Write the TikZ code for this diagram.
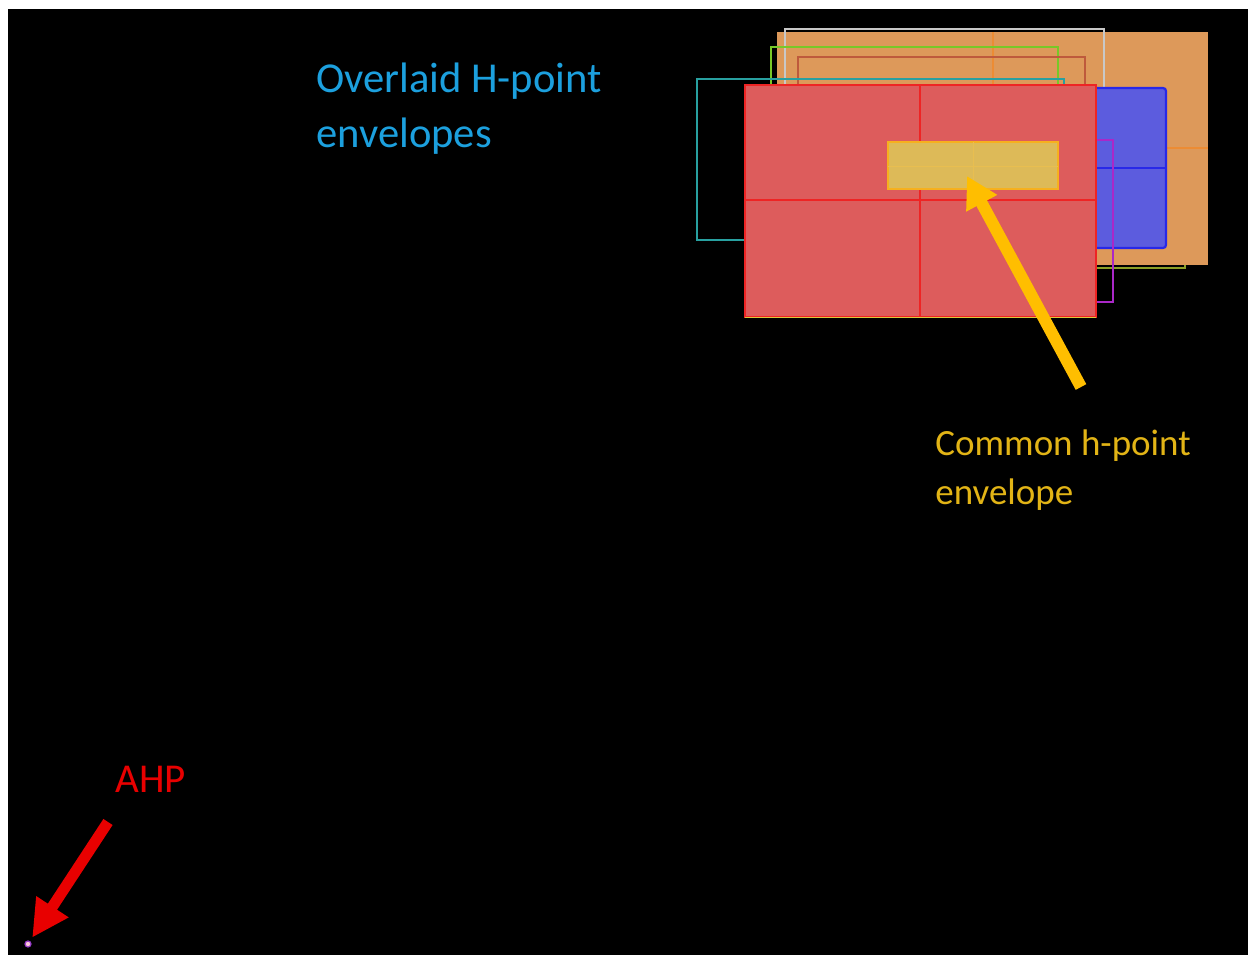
\documentclass[tikz,border=0pt]{standalone}
\usepackage{fontspec}
\setmainfont{Carlito}
\usetikzlibrary{arrows.meta,positioning}

\definecolor{orangeenv}{RGB}{221,153,90}
\definecolor{orangeedge}{RGB}{236,140,52}
\definecolor{redenv}{RGB}{221,92,92}
\definecolor{rededge}{RGB}{238,36,36}
\definecolor{blueenv}{RGB}{92,92,222}
\definecolor{blueedge}{RGB}{40,40,232}
\definecolor{yellowenv}{RGB}{221,186,88}
\definecolor{yellowedge}{RGB}{246,176,30}
\definecolor{arrowyellow}{RGB}{255,190,0}
\definecolor{textblue}{RGB}{28,160,222}
\definecolor{textyellow}{RGB}{226,180,22}
\definecolor{ahpred}{RGB}{232,0,0}

\begin{document}
\begin{tikzpicture}[x=0.5pt,y=-0.5pt,
    envline/.style={line width=0.8pt},
    gridline/.style={line width=0.6pt},
    labeltext/.style={anchor=base west,inner sep=0pt,align=left}]
    \useasboundingbox (0,0) rectangle (1250,955);
    \fill[white] (0,0) rectangle (1250,955);
    \fill[black] (8,9) rectangle (1248,955);
    % Envelopes behind
    \draw[envline,color={rgb,255:red,140;green,160;blue,40}] (780,40) rectangle (1185,268);
    \fill[orangeenv] (777,32) rectangle (1208,265);
    \draw[gridline,orangeedge] (993,32) -- (993,265) (777,148) -- (1208,148);
    \draw[envline,color={rgb,255:red,200;green,200;blue,200}] (785,29) rectangle (1104,230);
    \draw[envline,color={rgb,255:red,120;green,200;blue,40}] (771,47) rectangle (1058,290);
    \draw[envline,color={rgb,255:red,190;green,90;blue,60}] (798,57) rectangle (1085,280);
    \draw[envline,color={rgb,255:red,40;green,160;blue,160}] (697,79) rectangle (1064,240);
    \filldraw[blueenv,draw=blueedge,line width=1.1pt,rounded corners=1.5pt] (1000,88) rectangle (1166,248);
    \draw[gridline,blueedge] (1000,168) -- (1166,168);
    \draw[envline,color={rgb,255:red,170;green,40;blue,200}] (880,140) rectangle (1113,302);
    % Red envelope
    \filldraw[redenv,draw=rededge,line width=1.2pt] (745,85) rectangle (1096,317);
    \draw[gridline,rededge] (920,85) -- (920,317) (745,200) -- (1096,200);
    \draw[envline,color={rgb,255:red,220;green,200;blue,60}] (745,317.5) -- (1096,317.5);
    % Common envelope
    \filldraw[yellowenv,draw=yellowedge,line width=1pt] (888,142) rectangle (1058,189);
    \draw[line width=0.4pt,color={rgb,255:red,232;green,190;blue,80}] (973,142) -- (973,189) (888,166) -- (1058,166);
    % Labels
    \node[labeltext,text=textblue,font=\fontsize{21.3}{27.5}\selectfont] (overlaid) at (316,147) {Overlaid H-point\\envelopes};
    \node[labeltext,text=textyellow,font=\fontsize{18.5}{24.5}\selectfont] (common) at (935,504) {Common h-point\\envelope};
    \node[labeltext,text=ahpred,font=\fontsize{20.5}{24}\selectfont] (ahplabel) at (115,792) {AHP};
    % Arrows
    \coordinate (commontail) at (1081,387);
    \coordinate (commontip) at (967,176);
    \draw[arrowyellow,line width=6pt,-{Triangle[width=16.5pt,length=15.5pt]}] (commontail) -- (commontip);
    \node[circle,fill={rgb,255:red,255;green,200;blue,220},draw={rgb,255:red,150;green,60;blue,200},line width=0.6pt,inner sep=0pt,minimum size=3pt] (ahp) at (28,944) {};
    \coordinate (ahptail) at (108,822);
    \draw[ahpred,line width=5.5pt,shorten >=2pt,-{Triangle[width=18pt,length=18.5pt]}] (ahptail) -- (ahp);
\end{tikzpicture}
\end{document}
